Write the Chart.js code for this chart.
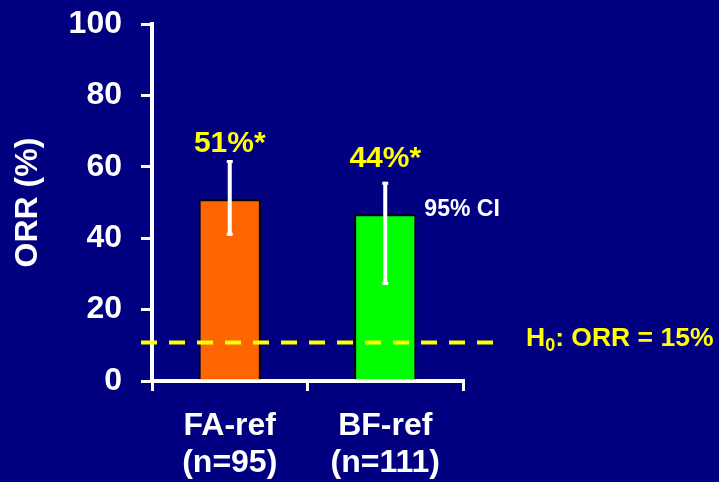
<!DOCTYPE html>
<html>
<head>
<meta charset="utf-8">
<script src="https://cdn.jsdelivr.net/npm/chart.js@4"></script>
<style>
  body { margin: 0; background: #000080; }
</style>
</head>
<body>
<canvas id="orrChart" width="719" height="482"></canvas>
<script>
// values
const categories = [['FA-ref', '(n=95)'], ['BF-ref', '(n=111)']];
const orr = [50.9, 46.7];
const ciLow = [40.7, 26.9];
const ciHigh = [61.9, 55.8];
const valueLabels = ['51%*', '44%*'];
const barColors = ['#FF6600', '#00FF00'];
const h0Value = 10.8;
const yTicks = [0, 20, 40, 60, 80, 100];

const FONT = "'Liberation Sans', Arial, sans-serif";

const extras = {
    id: 'extras',
    beforeDraw(chart) {
        const ctx = chart.ctx;
        ctx.save();
        ctx.fillStyle = '#000080';
        ctx.fillRect(0, 0, chart.width, chart.height);
        ctx.restore();
    },
    afterDatasetsDraw(chart) {
        const ctx = chart.ctx;
        const x = chart.scales.x;
        const y = chart.scales.y;
        const area = chart.chartArea;
        ctx.save();

        // error bars (95% CI)
        ctx.fillStyle = '#FFFFFF';
        ciLow.forEach((lo, i) => {
            const cx = x.getPixelForValue(i);
            const top = y.getPixelForValue(ciHigh[i]);
            const bot = y.getPixelForValue(lo);
            ctx.fillRect(cx - 2, top, 4, bot - top);
            ctx.fillRect(cx - 3, top, 6, 3);
            ctx.fillRect(cx - 3, bot - 3, 6, 3);
        });

        // H0 reference line
        const hy = y.getPixelForValue(h0Value);
        ctx.strokeStyle = '#FFFF00';
        ctx.lineWidth = 4;
        ctx.setLineDash([16, 12]);
        ctx.beginPath();
        ctx.moveTo(area.left - 11, hy);
        ctx.lineTo(area.right + 30, hy);
        ctx.stroke();
        ctx.setLineDash([]);

        // value labels above bars
        ctx.fillStyle = '#FFFF00';
        ctx.font = 'bold 30px ' + FONT;
        ctx.textAlign = 'center';
        ctx.textBaseline = 'alphabetic';
        valueLabels.forEach((t, i) => {
            ctx.fillText(t, x.getPixelForValue(i), y.getPixelForValue(orr[i]) - 47);
        });

        // "95% CI" note
        const bar = chart.getDatasetMeta(0).data[1];
        ctx.fillStyle = '#FFFFFF';
        ctx.font = 'bold 23px ' + FONT;
        ctx.textAlign = 'left';
        ctx.fillText('95% CI', bar.x + bar.width / 2 + 8, bar.y + 2);

        // H0 label with subscript
        ctx.fillStyle = '#FFFF00';
        let tx = area.right + 63;
        const base = hy + 4;
        ctx.font = 'bold 26.5px ' + FONT;
        ctx.fillText('H', tx, base);
        tx += ctx.measureText('H').width;
        ctx.font = 'bold 18px ' + FONT;
        ctx.fillText('0', tx, base + 5);
        tx += ctx.measureText('0').width;
        ctx.font = 'bold 26.5px ' + FONT;
        ctx.fillText(': ORR = 15%', tx, base);

        ctx.restore();
    }
};

new Chart(document.getElementById('orrChart'), {
    type: 'bar',
    data: {
        labels: categories,
        datasets: [{
            data: orr,
            backgroundColor: barColors,
            borderColor: '#000000',
            borderWidth: 2,
            barPercentage: 0.4,
            categoryPercentage: 1
        }]
    },
    options: {
        responsive: false,
        animation: false,
        layout: { padding: { top: 24, right: 256, left: 0, bottom: 0 } },
        plugins: { legend: { display: false }, tooltip: { enabled: false } },
        scales: {
            x: {
                afterFit(scale) {
                    scale.height = 101;
                    scale.paddingLeft = 0;
                    scale.paddingRight = 0;
                },
                grid: {
                    display: true,
                    drawOnChartArea: false,
                    drawTicks: true,
                    tickLength: 10,
                    color: '#FFFFFF',
                    lineWidth: 3,
                    offset: true
                },
                border: { display: true, color: '#FFFFFF', width: 4 },
                ticks: {
                    color: '#FFFFFF',
                    padding: 16,
                    font: { family: FONT, size: 32, weight: 'bold', lineHeight: 1.18 }
                }
            },
            y: {
                min: 0,
                max: 100,
                afterFit(scale) {
                    scale.width = 152;
                    scale.paddingTop = 0;
                    scale.paddingBottom = 0;
                },
                afterBuildTicks(scale) { scale.ticks = yTicks.map(v => ({ value: v })); },
                grid: {
                    display: true,
                    drawOnChartArea: false,
                    drawTicks: true,
                    tickLength: 11,
                    color: '#FFFFFF',
                    lineWidth: 3
                },
                border: { display: true, color: '#FFFFFF', width: 4 },
                ticks: {
                    color: '#FFFFFF',
                    padding: 19,
                    font: { family: FONT, size: 32, weight: 'bold' }
                },
                title: {
                    display: true,
                    text: 'ORR (%)',
                    color: '#FFFFFF',
                    padding: { top: 9, bottom: 0 },
                    font: { family: FONT, size: 32, weight: 'bold' }
                }
            }
        }
    },
    plugins: [extras]
});
</script>
</body>
</html>
